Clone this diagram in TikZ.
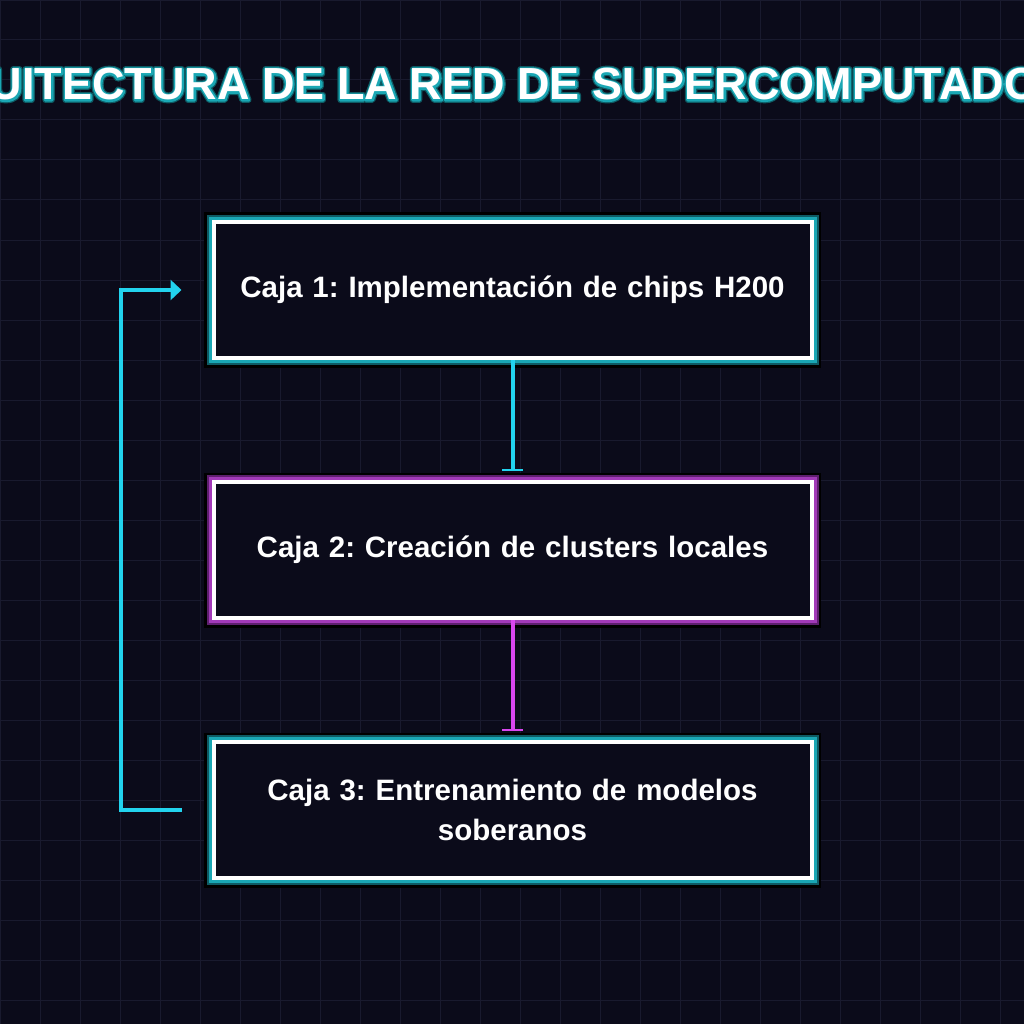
\documentclass[tikz,border=0pt]{standalone}
\usepackage{fontspec}
\setmainfont{Liberation Sans}
\newfontfamily\glowouter[FakeBold=13]{Liberation Sans Bold}
\newfontfamily\glowinner[FakeBold=7.5]{Liberation Sans Bold}
\usetikzlibrary{arrows.meta}

\definecolor{bgdark}{HTML}{0B0B1A}
\definecolor{gridcol}{HTML}{191A2E}
\definecolor{neoncyan}{HTML}{22D3EE}
\definecolor{neonpink}{HTML}{D946EF}
\definecolor{tealglow}{HTML}{1AA7B4}
\definecolor{tealdeep}{HTML}{0E5A63}
\definecolor{pinkglow}{HTML}{A23AB8}
\definecolor{pinkdeep}{HTML}{5E1F6E}

\begin{document}
\frenchspacing
\begin{tikzpicture}[x=1pt, y=-1pt,
  stagebox/.style={draw=white, line width=4pt, fill=bgdark,
    minimum width=598pt, minimum height=136pt, align=center,
    text width=560pt, text=white,
    font=\bfseries\fontsize{29.5}{40}\selectfont},
  tealbox/.style={stagebox,
    preaction={draw=black, line width=19pt},
    preaction={draw=tealdeep, line width=14pt},
    preaction={draw=tealglow, line width=10pt}},
  pinkbox/.style={stagebox,
    preaction={draw=black, line width=19pt},
    preaction={draw=pinkdeep, line width=14pt},
    preaction={draw=pinkglow, line width=10pt}},
  link/.style={line width=4pt, shorten >=9pt,
    -{Bar[width=21pt, line width=2.5pt]}},
  titlefont/.style={font=\fontsize{45}{50}\selectfont, anchor=base,
    line join=round}]

  % background and grid
  \useasboundingbox (0,0) rectangle (1024,1024);
  \clip (0,0) rectangle (1024,1024);
  \fill[bgdark] (0,0) rectangle (1024,1024);
  \draw[gridcol, line width=1pt, step=40pt] (0,0) grid (1024,1024);

  % title with glow
  \node[titlefont, text=tealdeep] at (512,100) {\glowouter ARQUITECTURA DE LA RED DE SUPERCOMPUTADORAS};
  \node[titlefont, text=tealglow] at (512,100) {\glowinner ARQUITECTURA DE LA RED DE SUPERCOMPUTADORAS};
  \node[titlefont, text=white] (title) at (512,100) {\bfseries ARQUITECTURA DE LA RED DE SUPERCOMPUTADORAS};

  % stages
  \node[tealbox] (caja1) at (512.5,290) {Caja 1: Implementación de chips H200};
  \node[pinkbox] (caja2) at (512.5,550) {Caja 2: Creación de clusters locales};
  \node[tealbox] (caja3) at (512.5,810) {Caja 3: Entrenamiento de modelos\\soberanos};

  % links
  \draw[link, neoncyan] (caja1.south) -- (caja2.north);
  \draw[link, neonpink] (caja2.south) -- (caja3.north);

  % feedback loop
  \draw[neoncyan, line width=4pt, -{Triangle[length=11pt, width=20pt]}]
    ([xshift=-30pt]caja3.west) -- ++(-61,0) |- ([xshift=-30pt]caja1.west);
\end{tikzpicture}
\end{document}
